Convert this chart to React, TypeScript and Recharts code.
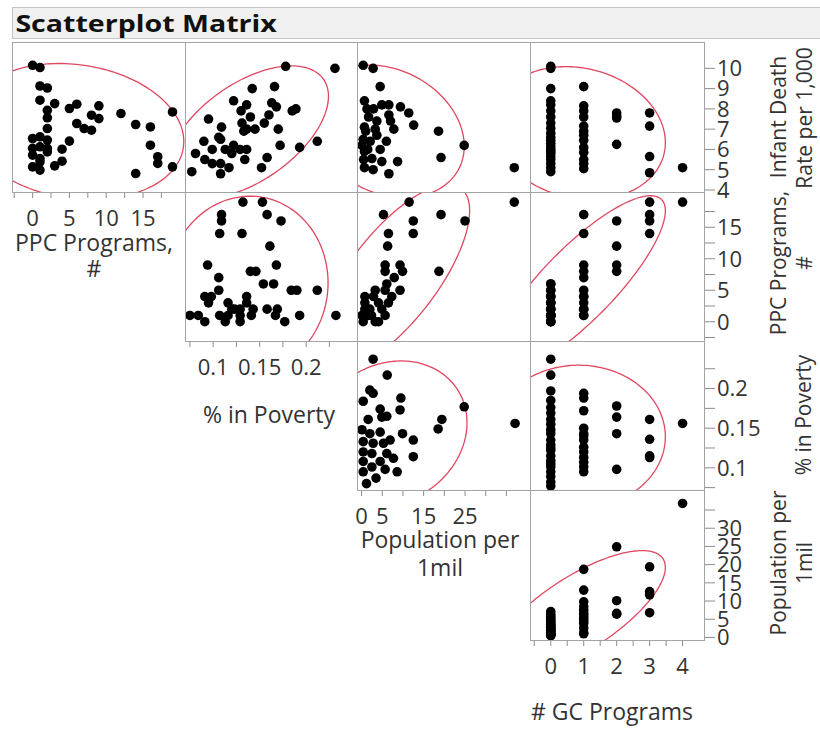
import { ScatterChart, Scatter, XAxis, YAxis } from "recharts"

type Pt = [number, number]

// ---- values ----
// row 1: Infant Death Rate per 1,000 against each column variable
const ppcInfant: Pt[] = [
  [0, 10.15], [1, 10.04], [1, 9.13], [2, 9.03], [1, 8.43], [3, 8.26], [2, 7.93], [5, 8.02], [6, 8.23], [9, 8.15],
  [2, 7.56], [6, 7.28], [8, 7.69], [9, 7.52], [7, 7.03], [8, 6.95], [2, 7.03], [12, 7.77], [14, 7.23], [16, 7.11],
  [19, 7.85], [16, 6.21], [17, 5.64], [17, 5.31], [19, 5.14], [14, 4.81], [5, 6.41], [4, 6.01], [4, 5.42], [3, 5.19],
  [1, 4.98], [0, 5.14], [0, 6.54], [1, 6.62], [2, 6.46], [0, 6.05], [1, 6.13], [2, 6.05], [0, 5.72], [1, 5.55],
  [2, 5.88], [1, 5.39],
]
const povertyInfant: Pt[] = [
  [0.178, 10.1], [0.231, 10.0], [0.142, 9.0], [0.166, 9.1], [0.122, 8.4], [0.136, 8.2], [0.13, 7.9], [0.163, 8.3],
  [0.168, 8.1], [0.185, 7.9], [0.189, 8.0], [0.16, 7.7], [0.14, 7.6], [0.095, 7.5], [0.109, 7.1], [0.131, 7.3],
  [0.136, 7.0], [0.145, 7.0], [0.155, 7.3], [0.17, 7.0], [0.106, 6.6], [0.09, 6.4], [0.099, 6.0], [0.113, 6.0],
  [0.122, 6.2], [0.129, 6.0], [0.136, 6.0], [0.172, 6.2], [0.193, 6.1], [0.212, 6.4], [0.081, 5.8], [0.091, 5.5],
  [0.099, 5.3], [0.108, 5.3], [0.117, 5.1], [0.134, 5.5], [0.158, 5.6], [0.152, 5.1], [0.108, 4.8], [0.077, 4.9],
  [0.12, 5.8], [0.108, 6.5], [0.133, 6.9],
]
const popInfant: Pt[] = [
  [0.4, 10.15], [2.8, 10.0], [4.5, 9.1], [0.7, 8.4], [2.9, 8.0], [4.9, 8.2], [6.6, 8.2], [9.4, 8.1], [11.4, 7.8],
  [1.7, 7.6], [6.6, 7.7], [3.7, 7.4], [0.7, 7.1], [3.3, 7.0], [7.8, 7.0], [12.6, 7.2], [18.6, 6.9], [24.8, 6.2],
  [19.2, 5.6], [36.9, 5.1], [0.4, 6.5], [2.1, 6.4], [6.0, 6.4], [4.5, 6.0], [0.7, 5.9], [8.7, 5.4], [2.5, 5.55],
  [4.9, 5.4], [0.7, 5.1], [2.8, 5.0], [6.6, 4.8], [0.1, 6.2], [3.7, 6.7], [7.0, 7.4], [1.3, 8.0], [1.0, 6.9],
  [0.5, 5.5], [1.5, 6.0],
]
// row 2: PPC Programs, #
const povertyPpc: Pt[] = [
  [0.132, 19], [0.153, 19], [0.109, 17], [0.109, 16], [0.158, 17], [0.173, 16], [0.107, 14], [0.131, 14], [0.161, 12],
  [0.094, 9], [0.14, 8], [0.146, 8], [0.168, 9], [0.106, 7], [0.154, 6], [0.165, 6], [0.106, 5], [0.184, 5],
  [0.19, 5], [0.212, 5], [0.136, 4], [0.091, 4], [0.098, 4], [0.095, 3], [0.116, 3], [0.123, 2], [0.136, 3],
  [0.143, 2], [0.129, 2], [0.158, 2], [0.169, 2], [0.075, 1], [0.084, 1], [0.107, 1], [0.116, 1], [0.129, 1],
  [0.141, 1], [0.167, 1], [0.193, 1], [0.232, 1], [0.091, 0], [0.113, 0], [0.129, 0], [0.177, 0], [0.12, 2],
]
const popPpc: Pt[] = [
  [11.5, 19], [36.9, 19], [5.3, 17], [12.5, 16], [19.2, 17], [25.0, 16], [12.5, 14], [6.5, 14], [6.3, 12], [5.7, 9],
  [9.3, 9], [9.9, 8], [18.7, 8], [7.9, 7], [6.1, 6], [9.3, 5], [5.7, 5], [3.3, 5], [0.8, 4], [2.9, 4], [6.5, 3],
  [4.1, 3], [0.8, 3], [2.0, 2], [4.9, 2], [0.1, 1], [2.4, 1], [5.7, 1], [0.4, 0], [3.3, 0], [0.8, 2], [1.6, 1],
  [4.1, 0], [7.3, 4], [5.7, 8],
]
// row 3: % in Poverty
const popPoverty: Pt[] = [
  [2.8, 0.237], [6.2, 0.217], [2.0, 0.198], [2.8, 0.194], [0.4, 0.184], [9.5, 0.188], [9.3, 0.173], [4.5, 0.174],
  [6.1, 0.165], [1.6, 0.161], [24.8, 0.177], [19.4, 0.161], [18.5, 0.149], [37.1, 0.156], [9.9, 0.143], [12.5, 0.135],
  [12.5, 0.114], [8.6, 0.095], [1.2, 0.08], [3.5, 0.087], [5.7, 0.098], [0.1, 0.148], [2.0, 0.143], [4.5, 0.145],
  [0.4, 0.133], [2.8, 0.131], [5.3, 0.131], [0.4, 0.12], [2.5, 0.118], [6.1, 0.118], [7.7, 0.112], [0.4, 0.108],
  [4.5, 0.108], [0.4, 0.095], [2.5, 0.101], [6.9, 0.135], [4.9, 0.164],
]
// last column: # GC Programs (one list per GC level)
const gcLevels = [0, 1, 2, 3, 4]
const infantByGc = [
  [10.1, 10.0, 9.0, 8.4, 8.2, 7.9, 7.6, 7.3, 7.05, 6.8, 6.6, 6.45, 6.3, 6.15, 5.9, 5.8, 5.65, 5.5, 5.3, 5.1, 4.9, 6.0],
  [9.1, 8.15, 7.9, 7.6, 7.15, 6.9, 6.7, 6.45, 6.1, 5.85, 5.5, 5.3, 5.05],
  [7.8, 7.65, 7.55, 6.25],
  [7.8, 7.15, 5.65, 4.85],
  [5.1],
]
const ppcByGc = [
  [6, 6, 5, 5, 4, 4, 4, 3, 3, 3, 2, 2, 2, 1, 1, 1, 1, 1, 0, 0, 0, 1],
  [17, 14, 9, 8, 7, 5, 4, 4, 3, 2, 1, 1, 2],
  [16, 12, 9, 8],
  [19, 17, 16, 14],
  [19],
]
const povertyByGc = [
  [0.237, 0.217, 0.197, 0.185, 0.176, 0.169, 0.161, 0.155, 0.148, 0.143, 0.135, 0.129, 0.122, 0.115, 0.109, 0.105,
    0.101, 0.095, 0.089, 0.082, 0.077, 0.125],
  [0.194, 0.188, 0.172, 0.15, 0.143, 0.135, 0.126, 0.12, 0.113, 0.107, 0.101, 0.095, 0.14],
  [0.178, 0.164, 0.143, 0.098],
  [0.161, 0.136, 0.113, 0.115],
  [0.156],
]
const popByGc = [
  [7.1, 6.4, 5.8, 5.3, 4.8, 4.4, 4.0, 3.6, 3.3, 3.0, 2.8, 2.6, 2.3, 2.0, 1.8, 1.6, 1.3, 1.2, 1.0, 0.8, 0.6, 0.5],
  [18.7, 13.0, 9.8, 8.4, 7.5, 6.6, 5.9, 5.25, 4.5, 3.9, 2.6, 1.3, 1.0],
  [24.9, 10.1, 6.4, 6.6],
  [19.4, 12.6, 11.7, 6.8],
  [36.8],
]

// ticks
const infantTicks = [4, 5, 6, 7, 8, 9, 10]
const ppcTicks = [-2.5, 0, 2.5, 5, 7.5, 10, 12.5, 15, 17.5]
const ppcLabels = [0, 5, 10, 15]
const povertyTicks = [0.075, 0.1, 0.125, 0.15, 0.175, 0.2, 0.225]
const povertyLabels = [0.1, 0.15, 0.2]
const popTicks = [0, 5, 10, 15, 20, 25, 30, 35]
const popXLabels = [0, 5, 15, 25]
const popYLabels = [0, 5, 10, 15, 20, 25, 30]
const gcTicks = [-0.5, 0, 0.5, 1, 1.5, 2, 2.5, 3, 3.5, 4]
const gcLabels = [0, 1, 2, 3, 4]

// ---- layout ----
const FONT = '"Open Sans", "Noto Sans", sans-serif'
const colLeft = [12, 185, 357, 530]
const colWidth = [173, 172, 173, 174]
const rowTop = [42, 192, 341, 490]
const rowHeight = [150, 149, 149, 150]

type Axis = { domain: [number, number]; ticks: number[]; labels: number[] }
const ppcX: Axis = { domain: [-2.8, 20.7], ticks: ppcTicks, labels: ppcLabels }
const povertyX: Axis = { domain: [0.0697, 0.2547], ticks: povertyTicks, labels: povertyLabels }
const popX: Axis = { domain: [-1.1, 40.7], ticks: popTicks, labels: popXLabels }
const gcX: Axis = { domain: [-0.63, 4.65], ticks: gcTicks, labels: gcLabels }
const infantY: Axis = { domain: [3.9, 11.3], ticks: infantTicks, labels: infantTicks }
const ppcY: Axis = { domain: [-3.06, 20.6], ticks: ppcTicks, labels: ppcLabels }
const povertyY: Axis = { domain: [0.072, 0.26], ticks: povertyTicks, labels: povertyLabels }
const popY: Axis = { domain: [-0.7, 40.5], ticks: popTicks, labels: popYLabels }

const byGc = (groups: number[][]): Pt[] => groups.flatMap((vals, i) => vals.map((v) => [gcLevels[i], v] as Pt))

const cells = [
  { row: 0, col: 0, pts: ppcInfant, x: ppcX, y: infantY },
  { row: 0, col: 1, pts: povertyInfant, x: povertyX, y: infantY },
  { row: 0, col: 2, pts: popInfant, x: popX, y: infantY },
  { row: 0, col: 3, pts: byGc(infantByGc), x: gcX, y: infantY },
  { row: 1, col: 1, pts: povertyPpc, x: povertyX, y: ppcY },
  { row: 1, col: 2, pts: popPpc, x: popX, y: ppcY },
  { row: 1, col: 3, pts: byGc(ppcByGc), x: gcX, y: ppcY },
  { row: 2, col: 2, pts: popPoverty, x: popX, y: povertyY },
  { row: 2, col: 3, pts: byGc(povertyByGc), x: gcX, y: povertyY },
  { row: 3, col: 3, pts: byGc(popByGc), x: gcX, y: popY },
]

// 95% bivariate normal density ellipse from the panel's points
function densityEllipse(pts: Pt[]) {
  const n = pts.length
  const mx = pts.reduce((s, p) => s + p[0], 0) / n
  const my = pts.reduce((s, p) => s + p[1], 0) / n
  let sxx = 0, syy = 0, sxy = 0
  pts.forEach(([x, y]) => {
    sxx += (x - mx) ** 2
    syy += (y - my) ** 2
    sxy += (x - mx) * (y - my)
  })
  const sx = Math.sqrt(sxx / (n - 1))
  const sy = Math.sqrt(syy / (n - 1))
  const r = sxy / Math.sqrt(sxx * syy)
  const c = Math.sqrt(5.991)
  const a = Math.sqrt((1 + r) / 2)
  const b = Math.sqrt((1 - r) / 2)
  const out: { x: number; y: number }[] = []
  for (let i = 0; i <= 180; i++) {
    const t = (i / 180) * 2 * Math.PI
    out.push({
      x: mx + c * sx * (a * Math.cos(t) + b * Math.sin(t)),
      y: my + c * sy * (a * Math.cos(t) - b * Math.sin(t)),
    })
  }
  return out
}

const labelOnly = (labels: number[]) => (v: number) => (labels.some((l) => Math.abs(l - v) < 1e-9) ? String(v) : "")

const tickStyle = { fontSize: 22, fill: "#333", fontFamily: FONT }

function Cell({ row, col, pts, x, y }: { row: number; col: number; pts: Pt[]; x: Axis; y: Axis }) {
  const bottom = row === col
  const right = col === 3
  const w = colWidth[col]
  const h = rowHeight[row]
  const axisH = bottom ? 44 : 0
  const axisW = right ? 80 : 0
  const dots = pts.map(([px, py]) => ({ x: px, y: py }))
  return (
    <div style={{ position: "absolute", left: colLeft[col], top: rowTop[row] }}>
      <ScatterChart width={w + axisW} height={h + axisH} margin={{ top: 0, right: 0, bottom: 0, left: 0 }}>
        <XAxis
          type="number"
          dataKey="x"
          domain={x.domain}
          allowDataOverflow
          hide={!bottom}
          height={axisH}
          ticks={x.ticks}
          interval={0}
          tickSize={6}
          tickMargin={12}
          axisLine={false}
          tickLine={{ stroke: "#8c8c8c" }}
          tick={tickStyle}
          tickFormatter={labelOnly(x.labels)}
        />
        <YAxis
          type="number"
          dataKey="y"
          orientation="right"
          domain={y.domain}
          allowDataOverflow
          hide={!right}
          width={axisW}
          ticks={y.ticks}
          interval={0}
          tickSize={11}
          tickMargin={2}
          axisLine={false}
          tickLine={{ stroke: "#8c8c8c" }}
          tick={tickStyle}
          tickFormatter={labelOnly(y.labels)}
        />
        <Scatter
          data={densityEllipse(pts)}
          line={{ stroke: "#e0475f", strokeWidth: 1.3 }}
          lineType="joint"
          shape={() => <g />}
          isAnimationActive={false}
        />
        <Scatter
          data={dots}
          fill="#000"
          shape={(p: any) => <circle cx={p.cx} cy={p.cy} r={4.8} fill="#000" />}
          isAnimationActive={false}
        />
      </ScatterChart>
    </div>
  )
}

const txt = { fontSize: 23, fill: "#333", fontFamily: FONT }
const vtxt = { fontSize: 21, fill: "#333", fontFamily: FONT }

export default function App() {
  return (
    <div style={{ position: "absolute", left: 0, top: 0, width: 820, height: 729, background: "#fff", overflow: "hidden" }}>
      <style>{"svg.recharts-surface{overflow:visible}"}</style>
      <div
        style={{
          position: "absolute",
          left: 12,
          top: 7,
          width: 820,
          height: 32,
          boxSizing: "border-box",
          background: "#f0f0f0",
          border: "1px solid #c4c4c4",
        }}
      >
        <div
          style={{
            fontFamily: FONT,
            fontWeight: 700,
            fontSize: 24,
            lineHeight: "29px",
            paddingLeft: 2,
            color: "#111",
            transform: "scaleX(1.19)",
            transformOrigin: "left center",
            whiteSpace: "nowrap",
          }}
        >
          Scatterplot Matrix
        </div>
      </div>
      {cells.map((c) => (
        <Cell key={`${c.row}-${c.col}`} {...c} />
      ))}
      {cells.map((c) => (
        <div
          key={`b${c.row}-${c.col}`}
          style={{
            position: "absolute",
            left: colLeft[c.col],
            top: rowTop[c.row],
            width: colWidth[c.col] + 1,
            height: rowHeight[c.row] + 1,
            boxSizing: "border-box",
            border: "1px solid #a3a3a3",
            pointerEvents: "none",
          }}
        />
      ))}
      <svg width={820} height={729} style={{ position: "absolute", left: 0, top: 0, pointerEvents: "none" }}>
        <text x={94} y={251} textAnchor="middle" {...txt}>PPC Programs,</text>
        <text x={94} y={277} textAnchor="middle" {...txt}>#</text>
        <text x={269} y={423} textAnchor="middle" {...txt}>% in Poverty</text>
        <text x={440} y={548} textAnchor="middle" {...txt}>Population per</text>
        <text x={440} y={576} textAnchor="middle" {...txt}>1mil</text>
        <text x={612} y={720} textAnchor="middle" {...txt}># GC Programs</text>
        <text transform="translate(786,117) rotate(-90)" textAnchor="middle" {...vtxt}>Infant Death</text>
        <text transform="translate(812,118) rotate(-90)" textAnchor="middle" {...vtxt}>Rate per 1,000</text>
        <text transform="translate(786,263) rotate(-90)" textAnchor="middle" {...vtxt}>PPC Programs,</text>
        <text transform="translate(812,263) rotate(-90)" textAnchor="middle" {...vtxt}>#</text>
        <text transform="translate(811,415) rotate(-90)" textAnchor="middle" {...vtxt}>% in Poverty</text>
        <text transform="translate(786,563) rotate(-90)" textAnchor="middle" {...vtxt}>Population per</text>
        <text transform="translate(812,563) rotate(-90)" textAnchor="middle" {...vtxt}>1mil</text>
      </svg>
    </div>
  )
}
